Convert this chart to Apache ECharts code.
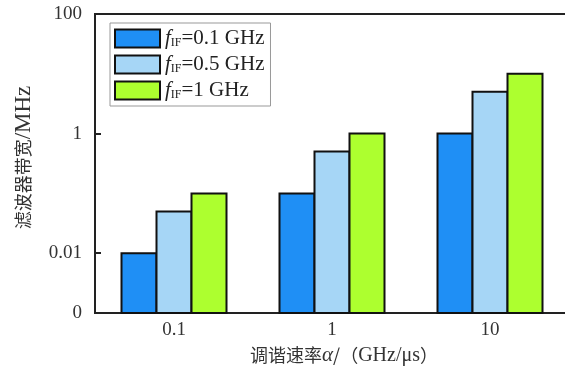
<!DOCTYPE html>
<html>
<head>
<meta charset="utf-8">
<script src="https://cdn.jsdelivr.net/npm/echarts@6/dist/echarts.min.js"></script>
<style>html,body{margin:0;padding:0;background:#fff}#c{width:565px;height:367px}</style>
</head>
<body>
<div id="c"></div>
<script>
const categories = ['0.1', '1', '10'];
const seriesNames = ['0.1 GHz', '0.5 GHz', '1 GHz'];
const bw01 = [0.01, 0.1, 1];
const bw05 = [0.05, 0.5, 5];
const bw1 = [0.1, 1, 10];
const yLabelValues = [0.001, 0.01, 1, 100];
const yTickValues = [0.01, 1, 100];
const colors = ['#1f8ff5', '#a6d6f6', '#adff2f'];

const serif = 'Liberation Serif';
const cjk = 'Noto Sans CJK SC';
const Y_MIN = 0.001;
const BAR_W = 35;
const chart = echarts.init(document.getElementById('c'));
const values = [bw01, bw05, bw1];

function makeRender(si) {
  return function (params, api) {
    const idx = api.value(0);
    const v = api.value(1);
    const top = api.coord([idx, v]);
    const base = api.coord([idx, Y_MIN]);
    const x = top[0] + (si - 1) * BAR_W - BAR_W / 2;
    return {
      type: 'rect',
      shape: {x: x, y: top[1], width: BAR_W, height: base[1] - top[1]},
      style: {fill: colors[si], stroke: '#111', lineWidth: 2}
    };
  };
}

chart.setOption({
  animation: false,
  grid: {left: 95, top: 14, width: 474, bottom: 54, show: true, borderColor: '#222', borderWidth: 2,
    backgroundColor: 'transparent', outerBoundsMode: 'none', containLabel: false},
  legend: {
    left: 110, top: 23, orient: 'vertical', itemWidth: 45, itemHeight: 18, itemGap: 5, icon: 'rect',
    padding: [5, 6, 5, 4], borderColor: '#999', borderWidth: 1,
    data: seriesNames.map((n, i) => ({name: n, itemStyle: {color: colors[i], borderColor: '#111', borderWidth: 2}})),
    formatter: n => '{i|f}{s|IF}{t|=' + n + '}',
    textStyle: {
      color: '#222',
      rich: {
        i: {fontFamily: serif, fontStyle: 'italic', fontSize: 21, color: '#222'},
        s: {fontFamily: serif, fontSize: 12, verticalAlign: 'bottom', padding: [9, 0, 0, 0], color: '#222'},
        t: {fontFamily: serif, fontSize: 21, color: '#222'}
      }
    }
  },
  xAxis: {
    type: 'category', data: categories,
    axisLine: {lineStyle: {color: '#222', width: 2}},
    axisTick: {show: true, inside: true, alignWithLabel: true, length: 4, lineStyle: {color: '#444'}},
    axisLabel: {fontFamily: serif, fontSize: 19, color: '#333', margin: 8},
    name: '{c|调谐速率}{a|α}{c|/（}{l|GHz/μs}{c|）}', nameLocation: 'middle', nameGap: 31,
    nameTextStyle: {
      padding: [0, 0, 0, 24],
      rich: {
        c: {fontFamily: cjk, fontSize: 18, color: '#333'},
        a: {fontFamily: serif, fontStyle: 'italic', fontSize: 21, color: '#333'},
        l: {fontFamily: serif, fontSize: 20, color: '#333'}
      }
    }
  },
  yAxis: {
    type: 'log', logBase: 10, min: Y_MIN, max: 100,
    axisLine: {show: true, lineStyle: {color: '#222', width: 2}},
    axisTick: {show: true, inside: true, length: 6, customValues: yTickValues, lineStyle: {color: '#222', width: 2}},
    axisLabel: {fontFamily: serif, fontSize: 19, color: '#333', margin: 13, customValues: yLabelValues,
      formatter: v => (Math.abs(v - Y_MIN) < 1e-9 ? '0' : String(+v.toPrecision(3)))},
    splitLine: {show: false},
    name: '{c|滤波器带宽}{l|/MHz}', nameLocation: 'middle', nameGap: 60,
    nameTextStyle: {
      padding: [0, 0, 0, 12],
      rich: {
        c: {fontFamily: cjk, fontSize: 18, color: '#333'},
        l: {fontFamily: serif, fontSize: 23, color: '#333'}
      }
    }
  },
  series: seriesNames.map((n, i) => ({
    name: n, type: 'custom', renderItem: makeRender(i),
    itemStyle: {color: colors[i], borderColor: '#111', borderWidth: 2},
    encode: {x: 0, y: 1},
    data: values[i].map((v, k) => [k, v])
  }))
});
</script>
</body>
</html>
